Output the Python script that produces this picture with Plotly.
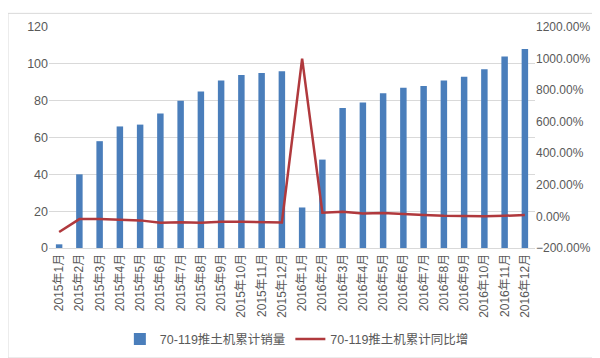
import plotly.graph_objects as go

categories = [
    "2015年1月", "2015年2月", "2015年3月", "2015年4月", "2015年5月", "2015年6月",
    "2015年7月", "2015年8月", "2015年9月", "2015年10月", "2015年11月", "2015年12月",
    "2016年1月", "2016年2月", "2016年3月", "2016年4月", "2016年5月", "2016年6月",
    "2016年7月", "2016年8月", "2016年9月", "2016年10月", "2016年11月", "2016年12月",
]
sales = [2, 40, 58, 66, 67, 73, 80, 85, 91, 94, 95, 96,
         22, 48, 76, 79, 84, 87, 88, 91, 93, 97, 104, 108]
growth = [-0.99, -0.17, -0.17, -0.19, -0.25, -0.40, -0.37, -0.40, -0.34, -0.34, -0.34, -0.38,
          10.0, 0.24, 0.30, 0.19, 0.21, 0.17, 0.09, 0.04, 0.01, 0.01, 0.04, 0.09]

bar_name = "70-119推土机累计销量"
line_name = "70-119推土机累计同比增"

font_family = "Liberation Sans, Noto Sans CJK SC, sans-serif"
text_color = "#595959"

fig = go.Figure()
fig.add_trace(go.Bar(
    x=categories, y=sales, name=bar_name,
    marker=dict(color="#4A7EBB", line=dict(width=0)),
    yaxis="y",
))
fig.add_trace(go.Scatter(
    x=categories, y=growth, name=line_name, mode="lines",
    line=dict(color="#B0393D", width=2.5),
    yaxis="y2",
))

fig.update_layout(
    width=600, height=358,
    margin=dict(l=41, r=73, t=16, b=115),
    paper_bgcolor="white", plot_bgcolor="white",
    font=dict(family=font_family, size=12, color=text_color),
    bargap=0.68,
    showlegend=True,
    legend=dict(orientation="h", x=0.51, xanchor="center", y=-0.414, yanchor="middle",
                font=dict(size=12.5, color=text_color), itemwidth=30,
                bgcolor="rgba(0,0,0,0)"),
    xaxis=dict(
        type="category", tickangle=-90, showgrid=False,
        showline=True, linecolor="#D9D9D9", linewidth=1,
        ticks="", tickfont=dict(size=12, color=text_color),
    ),
    yaxis=dict(
        range=[0, 120], dtick=20, showgrid=True, gridcolor="#D9D9D9", gridwidth=1,
        zeroline=False, showline=False, ticks="", tickfont=dict(size=12.5, color=text_color),
    ),
    yaxis2=dict(
        range=[-2, 12], dtick=2, tickformat=".2%", overlaying="y", side="right",
        showgrid=False, zeroline=False, showline=False, ticks="",
        tickfont=dict(size=12, color=text_color),
    ),
    shapes=[dict(type="rect", xref="paper", yref="paper",
                 x0=-41/486, x1=(486+70)/486, y0=-113/227, y1=1+14/227,
                 line=dict(color="#D9D9D9", width=1), fillcolor="rgba(0,0,0,0)", layer="below")],
)

fig.write_html("out.html")
